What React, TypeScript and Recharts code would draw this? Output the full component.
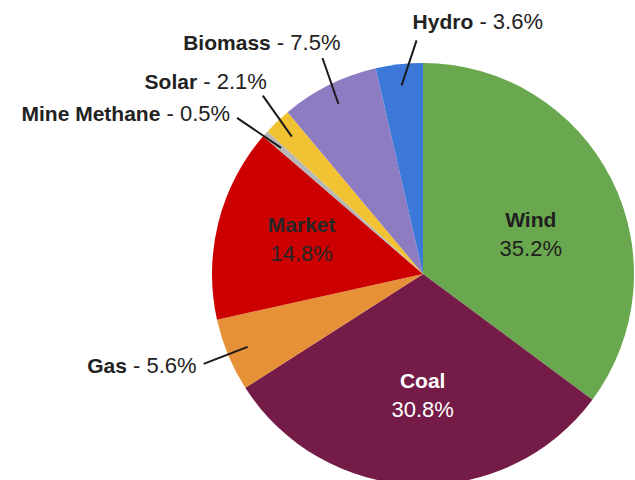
import React from 'react';
import { PieChart, Pie, Cell } from 'recharts';

const names = ['Wind', 'Coal', 'Gas', 'Market', 'Mine Methane', 'Solar', 'Biomass', 'Hydro'];
const values = [35.2, 30.8, 5.6, 14.8, 0.5, 2.1, 7.5, 3.6];
const colors = ['#6aa84f', '#741b47', '#e69138', '#cc0000', '#b7b7b7', '#f1c232', '#8e7cc3', '#3c78d8'];
const insideNames = ['Wind', 'Coal', 'Market'];

const data = names.map((n, i) => ({ name: n, value: values[i] }));

// label layout config (not data)
const insideNudge: Record<string, { dx: number; dy: number; color: string }> = {
  Wind: { dx: -4, dy: 20, color: '#1f1f1f' },
  Coal: { dx: 4, dy: 0, color: '#ffffff' },
  Market: { dx: 0, dy: 0, color: '#262626' },
};
const outsideLayout: Record<string, { lx: number; ly: number; tx: number; ty: number; anchor: 'start' | 'end' }> = {
  Hydro: { lx: 15, ly: -45, tx: -4, ty: -11, anchor: 'start' },
  Biomass: { lx: -16, ly: -46, tx: 18, ty: -8, anchor: 'end' },
  Solar: { lx: -29, ly: -41, tx: 4, ty: -7, anchor: 'end' },
  'Mine Methane': { lx: -44, ly: -30, tx: -7, ty: 3, anchor: 'end' },
  Gas: { lx: -44, ly: 17, tx: -7, ty: 9, anchor: 'end' },
};

const RAD = Math.PI / 180;
const FONT = '"Liberation Sans", Arial, sans-serif';

const renderLabel = (props: any) => {
  const { cx, cy, midAngle, outerRadius, name, value } = props;
  const cos = Math.cos(-midAngle * RAD);
  const sin = Math.sin(-midAngle * RAD);
  const pct = `${Number(value).toFixed(1)}%`;
  if (insideNames.includes(name)) {
    const r = outerRadius * 0.593;
    const nd = insideNudge[name];
    const x = cx + r * cos + nd.dx;
    const y = cy + r * sin + nd.dy;
    return (
      <g>
        <text x={x} y={y - 11} textAnchor="middle" fill={nd.color} fontFamily={FONT} fontSize={21} fontWeight="bold">
          {name}
        </text>
        <text x={x} y={y + 18} textAnchor="middle" fill={nd.color} fontFamily={FONT} fontSize={22}>
          {pct}
        </text>
      </g>
    );
  }
  const lay = outsideLayout[name];
  const r0 = outerRadius * 0.9;
  const sx = cx + r0 * cos;
  const sy = cy + r0 * sin;
  const ex = sx + lay.lx;
  const ey = sy + lay.ly;
  return (
    <g>
      <line x1={sx} y1={sy} x2={ex} y2={ey} stroke="#1a1a1a" strokeWidth={2} />
      <text x={ex + lay.tx} y={ey + lay.ty} textAnchor={lay.anchor} fill="#222222" fontFamily={FONT}>
        <tspan fontWeight="bold" fontSize={21}>{name}</tspan>
        <tspan fontSize={22}>{` - ${pct}`}</tspan>
      </text>
    </g>
  );
};

export default function App() {
  return (
    <div style={{ position: 'absolute', left: 0, top: 0, width: 635, height: 480, background: '#ffffff' }}>
      <PieChart width={635} height={480} margin={{ top: 0, right: 0, bottom: 0, left: 0 }}>
        <Pie
          data={data}
          dataKey="value"
          nameKey="name"
          cx={423}
          cy={274}
          outerRadius={211}
          startAngle={90}
          endAngle={-270}
          stroke="none"
          label={renderLabel}
          labelLine={false}
          isAnimationActive={false}
        >
          {data.map((d, i) => (
            <Cell key={d.name} fill={colors[i]} />
          ))}
        </Pie>
      </PieChart>
    </div>
  );
}
